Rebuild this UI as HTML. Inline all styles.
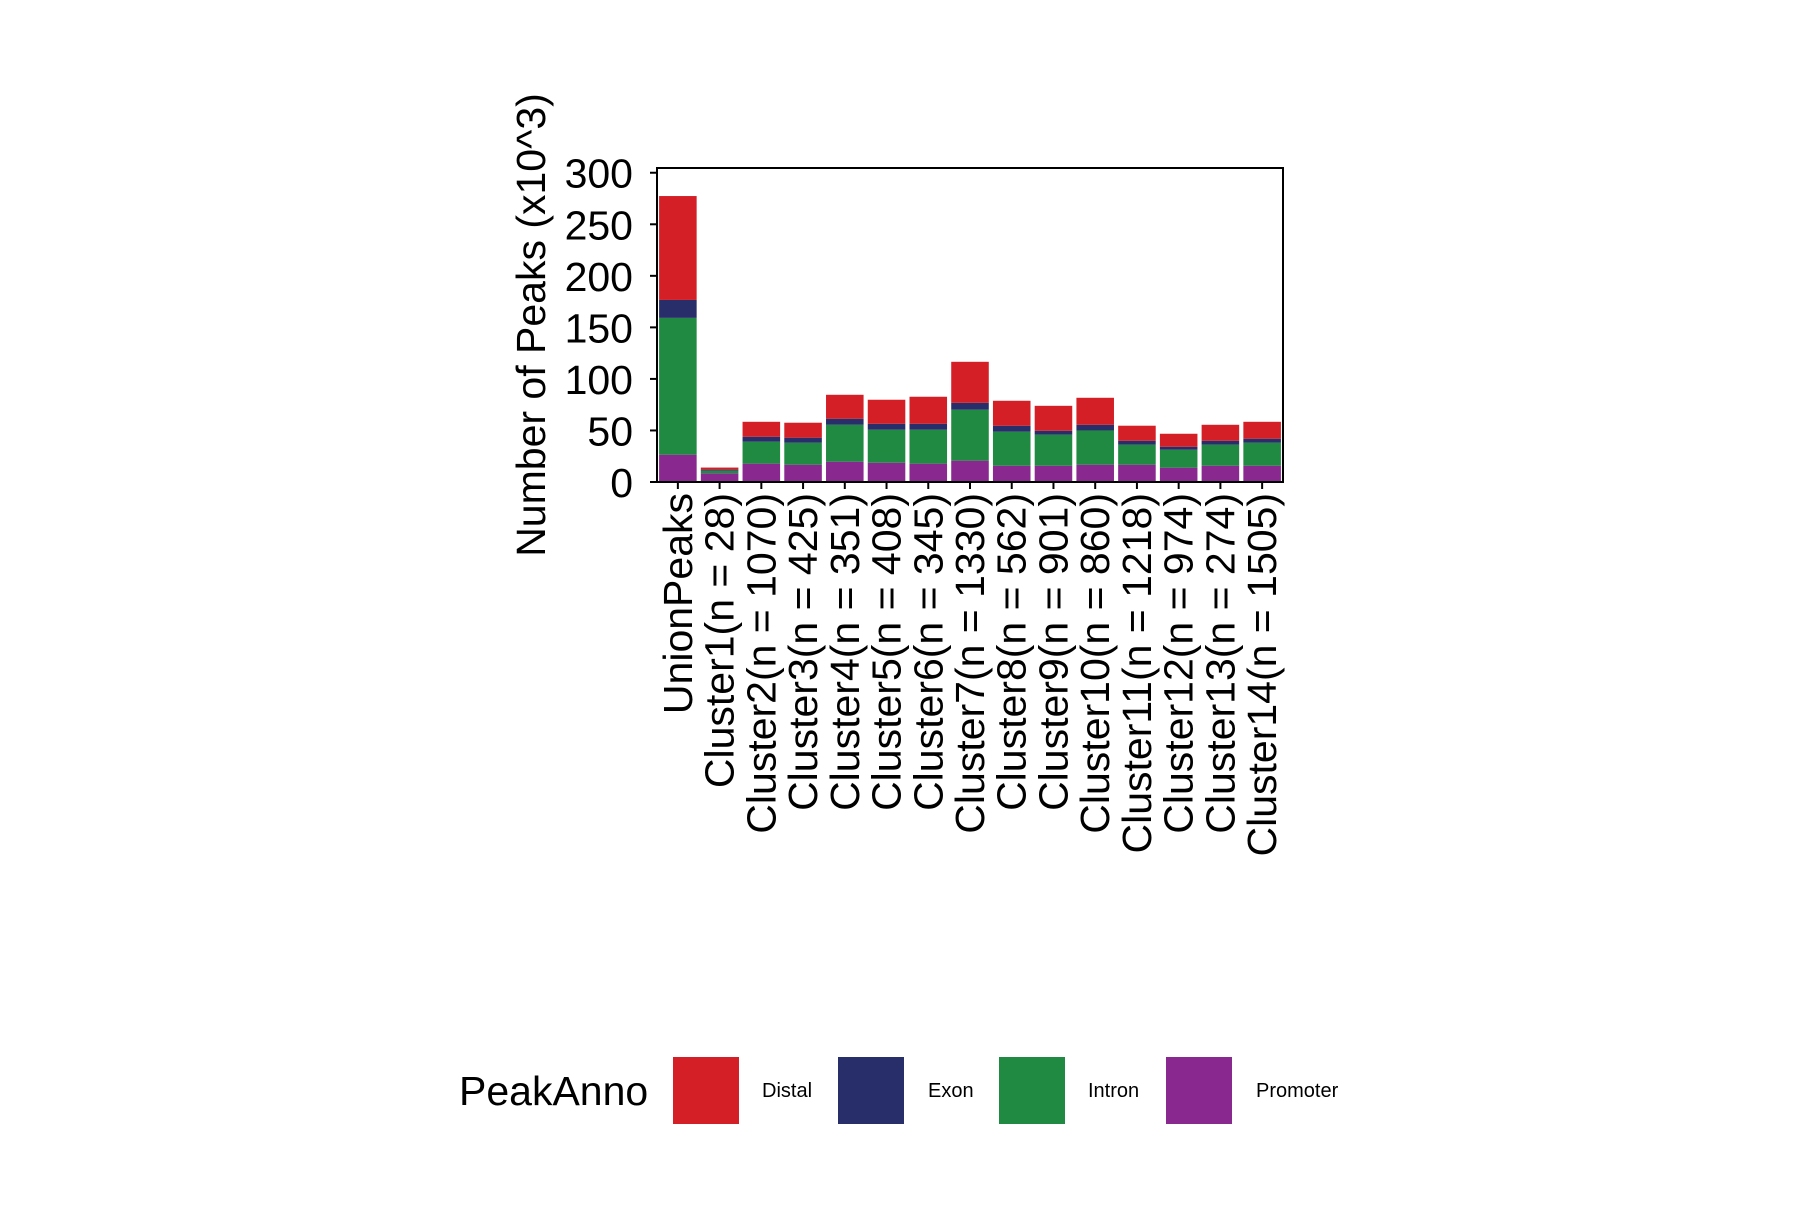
<!DOCTYPE html>
<html><head><meta charset="utf-8"><style>
html,body{margin:0;padding:0;background:#fff;}
svg text{font-family:"Liberation Sans",Arial,sans-serif;fill:#000;}
</style></head><body>
<svg id="chart" width="1800" height="1200" viewBox="0 0 1800 1200" xmlns="http://www.w3.org/2000/svg">
<rect width="1800" height="1200" fill="#fff"/>
<g id="bars"></g>
<g id="axes"></g>
<g id="legend"></g>
</svg>
<script>
const categories = ["UnionPeaks","Cluster1(n = 28)","Cluster2(n = 1070)","Cluster3(n = 425)","Cluster4(n = 351)","Cluster5(n = 408)","Cluster6(n = 345)","Cluster7(n = 1330)","Cluster8(n = 562)","Cluster9(n = 901)","Cluster10(n = 860)","Cluster11(n = 1218)","Cluster12(n = 974)","Cluster13(n = 274)","Cluster14(n = 1505)"];
const promoter = [26.5,8.4,17.8,16.8,19.7,18.7,17.8,20.7,15.8,15.8,16.8,16.8,13.9,15.8,15.8];
const intron = [132.7,2.6,21.3,21.3,35.8,32.0,32.9,49.4,33.0,30.1,33.2,19.4,17.4,20.4,22.3];
const exon = [17.4,1.0,4.8,4.9,5.9,5.8,5.8,6.7,5.8,3.8,5.5,3.8,2.9,3.8,3.9];
const distal = [100.8,2.0,14.5,14.5,23.2,23.3,26.2,39.8,24.2,24.2,26.2,14.6,12.6,15.5,16.4];
const yTicks = [0,50,100,150,200,250,300];
const seriesNames = ["Promoter","Intron","Exon","Distal"];
const legendNames = ["Distal","Exon","Intron","Promoter"];

const NS="http://www.w3.org/2000/svg";
const colors={Distal:"#D51F26",Exon:"#272E6A",Intron:"#208A42",Promoter:"#89288F"};
const L=657,R=1283,T=168,B=482,YMAX=304.6;
const y=v=>B-(v/YMAX)*(B-T);
const band=(R-L)/categories.length;
const x=i=>L+band*i;
function mk(tag,attrs,parent){const e=document.createElementNS(NS,tag);for(const k in attrs)e.setAttribute(k,attrs[k]);parent.appendChild(e);return e;}
const bars=document.getElementById('bars'),axes=document.getElementById('axes'),legend=document.getElementById('legend');
const series={Promoter:promoter,Intron:intron,Exon:exon,Distal:distal};
categories.forEach((c,i)=>{
  let base=0;const bw=band*0.9,bx=x(i)+band*0.05;
  seriesNames.forEach(s=>{
    const v=series[s][i];
    const r=mk('rect',{x:bx,y:y(base+v),width:bw,height:y(base)-y(base+v),fill:colors[s]},bars);
    
    
    base+=v;
  });
  const cx=x(i)+band/2;
  const t=mk('line',{x1:cx,x2:cx,y1:B,y2:B+7,stroke:'#000','stroke-width':2},axes);
  
  
  const lb=mk('text',{x:0,y:0,'font-size':41,'text-anchor':'end',transform:`translate(${cx+14},${B+11}) rotate(-90)`},axes);
  lb.textContent=c;
  
  
});
const frame=mk('rect',{x:L,y:T,width:R-L,height:B-T,fill:'none',stroke:'#000','stroke-width':2},axes);


yTicks.forEach(v=>{
  const t=mk('line',{x1:L-7,x2:L,y1:y(v),y2:y(v),stroke:'#000','stroke-width':2},axes);
  
  
  const lb=mk('text',{x:L-24,y:y(v)+15,'font-size':41,'text-anchor':'end'},axes);
  lb.textContent=v;
  
  
});
const yt=mk('text',{x:0,y:0,'font-size':41,'text-anchor':'middle',transform:`translate(545,325) rotate(-90)`},axes);
yt.textContent='Number of Peaks (x10^3)';


const lt=mk('text',{x:459,y:1105,'font-size':41},legend);
lt.textContent='PeakAnno';


const keyX=[673,838,999,1166],labX=[762,928,1088,1256];
legendNames.forEach((n,i)=>{
  const k=mk('rect',{x:keyX[i],y:1057,width:66,height:67,fill:colors[n]},legend);
  
  
  const t=mk('text',{x:labX[i],y:1097,'font-size':20},legend);
  t.textContent=n;
  
  
});
</script>
</body></html>
